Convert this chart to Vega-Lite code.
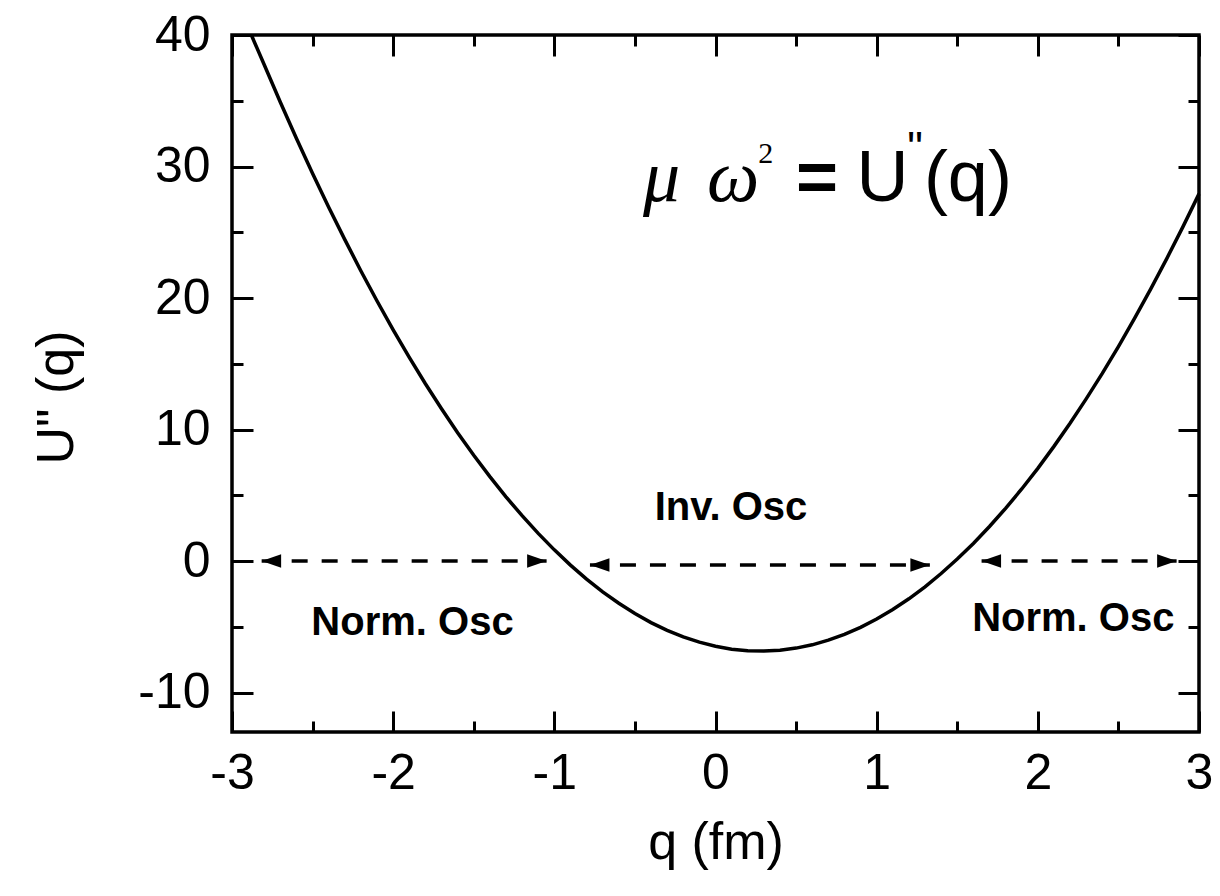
{
  "$schema": "https://vega.github.io/schema/vega-lite/v6.json",
  "autosize": {"type": "none"},
  "padding": {"left": 232, "top": 35, "right": 21, "bottom": 164},
  "width": 967,
  "height": 697,
  "background": "white",
  "config": {
    "view": {"stroke": "black", "strokeWidth": 3.5},
    "font": "Liberation Sans"
  },
  "resolve": {"axis": {"x": "independent", "y": "independent"}},
  "layer": [
    {
      "data": {"values": [
        {"q": -2.88, "U": 40.0}, {"q": -2.8, "U": 37.74}, {"q": -2.7, "U": 34.89}, {"q": -2.6, "U": 32.13},
        {"q": -2.5, "U": 29.47}, {"q": -2.4, "U": 26.91}, {"q": -2.3, "U": 24.44}, {"q": -2.2, "U": 22.06},
        {"q": -2.1, "U": 19.77}, {"q": -2.0, "U": 17.58}, {"q": -1.9, "U": 15.49}, {"q": -1.8, "U": 13.48},
        {"q": -1.7, "U": 11.58}, {"q": -1.6, "U": 9.76}, {"q": -1.5, "U": 8.04}, {"q": -1.4, "U": 6.42},
        {"q": -1.3, "U": 4.88}, {"q": -1.2, "U": 3.45}, {"q": -1.1, "U": 2.10}, {"q": -1.0, "U": 0.85},
        {"q": -0.9, "U": -0.31}, {"q": -0.8, "U": -1.37}, {"q": -0.7, "U": -2.34}, {"q": -0.6, "U": -3.21},
        {"q": -0.5, "U": -3.99}, {"q": -0.4, "U": -4.68}, {"q": -0.3, "U": -5.27}, {"q": -0.2, "U": -5.77},
        {"q": -0.1, "U": -6.17}, {"q": 0.0, "U": -6.48}, {"q": 0.1, "U": -6.70}, {"q": 0.2, "U": -6.82},
        {"q": 0.3, "U": -6.85}, {"q": 0.4, "U": -6.78}, {"q": 0.5, "U": -6.62}, {"q": 0.6, "U": -6.37},
        {"q": 0.7, "U": -6.02}, {"q": 0.8, "U": -5.58}, {"q": 0.9, "U": -5.04}, {"q": 1.0, "U": -4.41},
        {"q": 1.1, "U": -3.69}, {"q": 1.2, "U": -2.87}, {"q": 1.3, "U": -1.96}, {"q": 1.4, "U": -0.95},
        {"q": 1.5, "U": 0.15}, {"q": 1.6, "U": 1.34}, {"q": 1.7, "U": 2.63}, {"q": 1.8, "U": 4.01},
        {"q": 1.9, "U": 5.48}, {"q": 2.0, "U": 7.05}, {"q": 2.1, "U": 8.72}, {"q": 2.2, "U": 10.48},
        {"q": 2.3, "U": 12.33}, {"q": 2.4, "U": 14.27}, {"q": 2.5, "U": 16.31}, {"q": 2.6, "U": 18.45},
        {"q": 2.7, "U": 20.68}, {"q": 2.8, "U": 23.00}, {"q": 2.9, "U": 25.41}, {"q": 3.0, "U": 27.92}
      ]},
      "mark": {"type": "line", "color": "black", "strokeWidth": 3.5},
      "encoding": {
        "x": {"field": "q", "type": "quantitative",
          "scale": {"domain": [-3, 3], "nice": false, "zero": false},
          "axis": {
            "orient": "bottom",
            "values": [-3, -2.5, -2, -1.5, -1, -0.5, 0, 0.5, 1, 1.5, 2, 2.5, 3],
            "labelExpr": "datum.value % 1 === 0 ? '' + datum.value : ''",
            "tickSize": {"condition": {"test": "datum.value % 1 === 0", "value": -21}, "value": -11},
            "tickWidth": 3, "tickColor": "black", "domain": false, "grid": false,
            "labelFont": "Liberation Sans", "labelFontSize": 50, "labelColor": "black",
            "labelPadding": 37, "labelFlush": false, "labelOverlap": false, "labelBound": false,
            "title": "q (fm)", "titleFont": "Liberation Sans", "titleFontSize": 52, "titleFontWeight": "normal",
            "titleColor": "black", "titleX": 483.5, "titleY": 126, "titleBaseline": "alphabetic", "titleAlign": "center"
          }
        },
        "y": {"field": "U", "type": "quantitative",
          "scale": {"domain": [-13, 40], "nice": false, "zero": false},
          "axis": {
            "orient": "left",
            "values": [-10, -5, 0, 5, 10, 15, 20, 25, 30, 35, 40],
            "labelExpr": "datum.value % 10 === 0 ? '' + datum.value : ''",
            "tickSize": {"condition": {"test": "datum.value % 10 === 0", "value": -21}, "value": -11},
            "tickWidth": 3, "tickColor": "black", "domain": false, "grid": false,
            "labelFont": "Liberation Sans", "labelFontSize": 50, "labelColor": "black",
            "labelPadding": 43, "labelFlush": false, "labelOverlap": false, "labelBound": false,
            "labelBaseline": "middle", "labelAlign": "right",
            "title": "U\" (q)", "titleFont": "Liberation Sans", "titleFontSize": 52, "titleFontWeight": "normal",
            "titleColor": "black", "titleX": -160, "titleY": 362, "titleBaseline": "alphabetic", "titleAlign": "center", "titleAngle": -90
          }
        }
      }
    },
    {
      "data": {"values": [
        {"q1": -2.816, "q2": -1.048, "U": 0.0},
        {"q1": -0.779, "q2": 1.330, "U": -0.3},
        {"q1": 1.651, "q2": 2.861, "U": 0.0}
      ]},
      "mark": {"type": "rule", "color": "black", "strokeWidth": 3.5, "strokeDash": [16, 14]},
      "encoding": {
        "x": {"field": "q1", "type": "quantitative",
          "scale": {"domain": [-3, 3], "nice": false, "zero": false},
          "axis": {
            "orient": "top",
            "values": [-3, -2.5, -2, -1.5, -1, -0.5, 0, 0.5, 1, 1.5, 2, 2.5, 3],
            "labels": false, "title": null, "domain": false, "grid": false,
            "tickSize": {"condition": {"test": "datum.value % 1 === 0", "value": -21}, "value": -11},
            "tickWidth": 3, "tickColor": "black"
          }
        },
        "x2": {"field": "q2"},
        "y": {"field": "U", "type": "quantitative",
          "scale": {"domain": [-13, 40], "nice": false, "zero": false},
          "axis": {
            "orient": "right",
            "values": [-10, -5, 0, 5, 10, 15, 20, 25, 30, 35, 40],
            "labels": false, "title": null, "domain": false, "grid": false,
            "tickSize": {"condition": {"test": "datum.value % 10 === 0", "value": -21}, "value": -11},
            "tickWidth": 3, "tickColor": "black"
          }
        }
      }
    },
    {
      "data": {"values": [
        {"q": -2.816, "U": 0.0, "dir": "left"},
        {"q": -1.048, "U": 0.0, "dir": "right"},
        {"q": -0.779, "U": -0.3, "dir": "left"},
        {"q": 1.330, "U": -0.3, "dir": "right"},
        {"q": 1.651, "U": 0.0, "dir": "left"},
        {"q": 2.861, "U": 0.0, "dir": "right"}
      ]},
      "mark": {"type": "point", "filled": true, "color": "black", "opacity": 1, "size": 380},
      "encoding": {
        "x": {"field": "q", "type": "quantitative", "scale": {"domain": [-3, 3], "nice": false, "zero": false}, "axis": null},
        "y": {"field": "U", "type": "quantitative", "scale": {"domain": [-13, 40], "nice": false, "zero": false}, "axis": null},
        "shape": {"field": "dir", "type": "nominal",
          "scale": {"domain": ["left", "right"], "range": ["M0,0L2,-0.7L2,0.7Z", "M0,0L-2,-0.7L-2,0.7Z"]},
          "legend": null}
      }
    },
    {
      "data": {"values": [
        {"t": "μ", "q": -0.450, "U": 27.41},
        {"t": "ω", "q": -0.053, "U": 27.41}
      ]},
      "mark": {"type": "text", "font": "Liberation Serif", "fontStyle": "italic", "fontSize": 74, "align": "left", "baseline": "alphabetic", "color": "black"},
      "encoding": {
        "x": {"field": "q", "type": "quantitative", "scale": {"domain": [-3, 3], "nice": false, "zero": false}, "axis": null},
        "y": {"field": "U", "type": "quantitative", "scale": {"domain": [-13, 40], "nice": false, "zero": false}, "axis": null},
        "text": {"field": "t"}
      }
    },
    {
      "data": {"values": [
        {"t": "2", "q": 0.265, "U": 30.3}
      ]},
      "mark": {"type": "text", "font": "Liberation Serif", "fontSize": 30, "align": "left", "baseline": "alphabetic", "color": "black"},
      "encoding": {
        "x": {"field": "q", "type": "quantitative", "scale": {"domain": [-3, 3], "nice": false, "zero": false}, "axis": null},
        "y": {"field": "U", "type": "quantitative", "scale": {"domain": [-13, 40], "nice": false, "zero": false}, "axis": null},
        "text": {"field": "t"}
      }
    },
    {
      "data": {"values": [
        {"t": "=", "q": 0.499, "U": 27.41}
      ]},
      "mark": {"type": "text", "font": "Liberation Sans", "fontWeight": "bold", "fontSize": 72, "align": "left", "baseline": "alphabetic", "color": "black"},
      "encoding": {
        "x": {"field": "q", "type": "quantitative", "scale": {"domain": [-3, 3], "nice": false, "zero": false}, "axis": null},
        "y": {"field": "U", "type": "quantitative", "scale": {"domain": [-13, 40], "nice": false, "zero": false}, "axis": null},
        "text": {"field": "t"}
      }
    },
    {
      "data": {"values": [
        {"t": "U", "q": 0.875, "U": 27.41},
        {"t": "(q)", "q": 1.293, "U": 27.41}
      ]},
      "mark": {"type": "text", "font": "Liberation Sans", "fontSize": 72, "align": "left", "baseline": "alphabetic", "color": "black"},
      "encoding": {
        "x": {"field": "q", "type": "quantitative", "scale": {"domain": [-3, 3], "nice": false, "zero": false}, "axis": null},
        "y": {"field": "U", "type": "quantitative", "scale": {"domain": [-13, 40], "nice": false, "zero": false}, "axis": null},
        "text": {"field": "t"}
      }
    },
    {
      "data": {"values": [
        {"t": "\"", "q": 1.19, "U": 30.3}
      ]},
      "mark": {"type": "text", "font": "Liberation Sans", "fontSize": 44, "align": "left", "baseline": "alphabetic", "color": "black"},
      "encoding": {
        "x": {"field": "q", "type": "quantitative", "scale": {"domain": [-3, 3], "nice": false, "zero": false}, "axis": null},
        "y": {"field": "U", "type": "quantitative", "scale": {"domain": [-13, 40], "nice": false, "zero": false}, "axis": null},
        "text": {"field": "t"}
      }
    },
    {
      "data": {"values": [
        {"t": "Inv. Osc", "q": 0.096, "U": 3.11},
        {"t": "Norm. Osc", "q": -1.880, "U": -5.62},
        {"t": "Norm. Osc", "q": 2.22, "U": -5.35}
      ]},
      "mark": {"type": "text", "font": "Liberation Sans", "fontWeight": "bold", "fontSize": 40, "align": "center", "baseline": "alphabetic", "color": "black"},
      "encoding": {
        "x": {"field": "q", "type": "quantitative", "scale": {"domain": [-3, 3], "nice": false, "zero": false}, "axis": null},
        "y": {"field": "U", "type": "quantitative", "scale": {"domain": [-13, 40], "nice": false, "zero": false}, "axis": null},
        "text": {"field": "t"}
      }
    }
  ]
}
